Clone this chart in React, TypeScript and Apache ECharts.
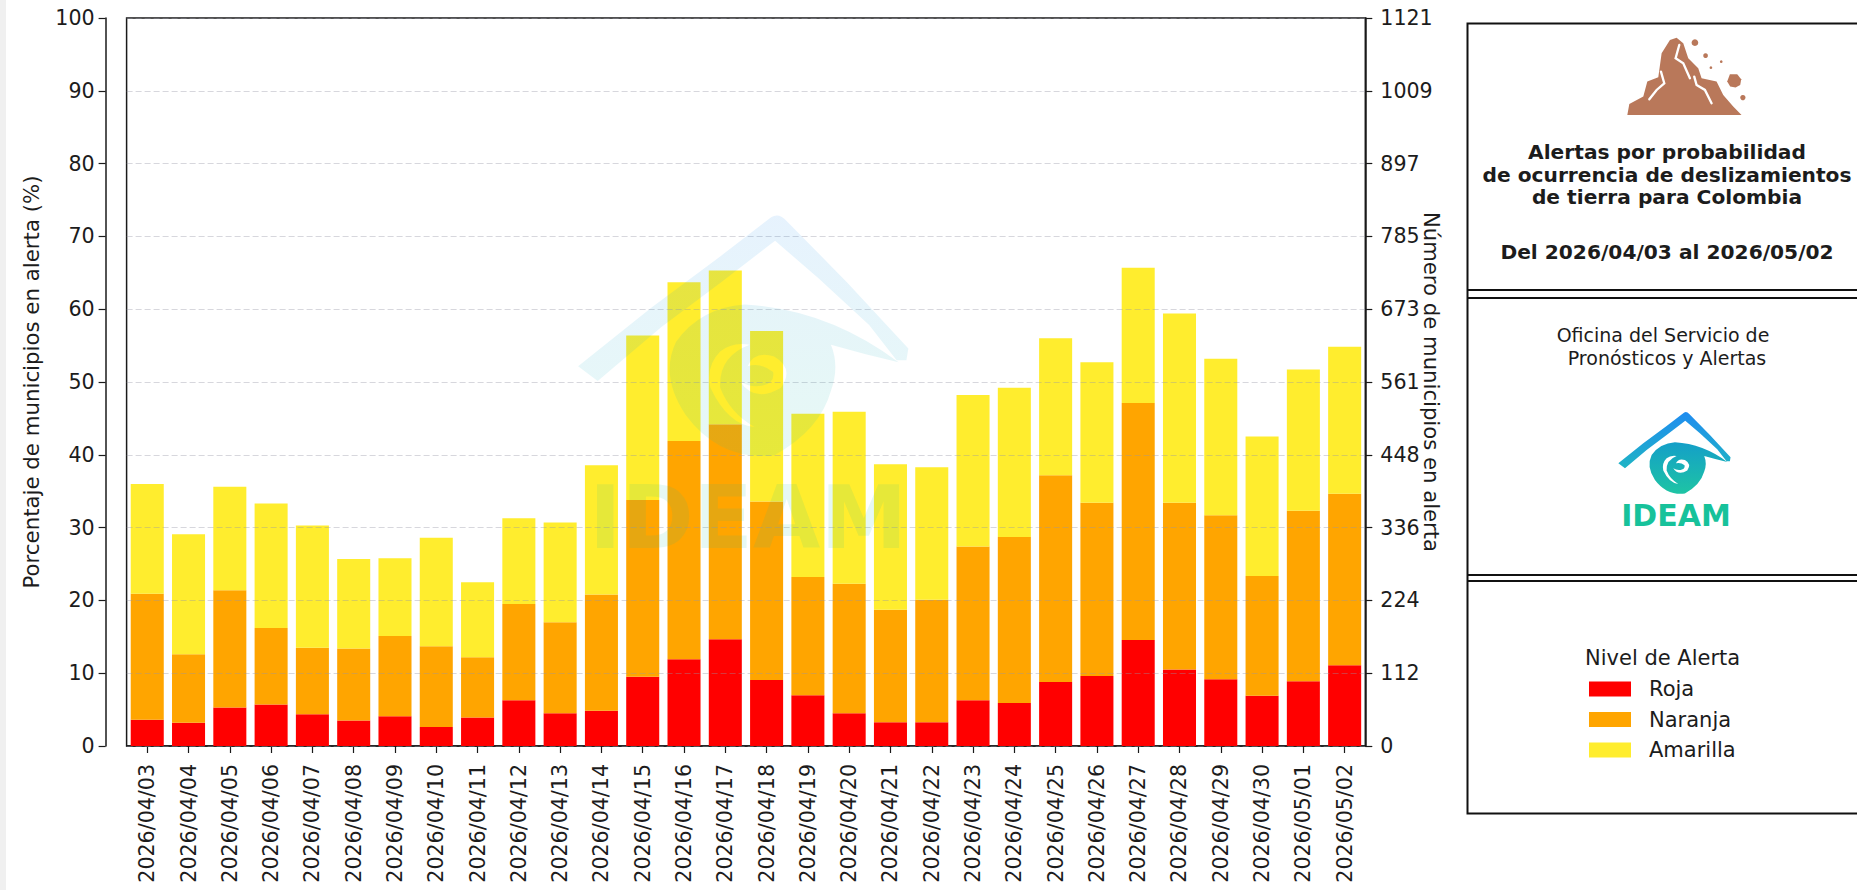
import React, { useEffect, useRef } from "react";
import * as echarts from "echarts";

const FONT = "DejaVu Sans";
const INK = "#1c1c1c";
const ROCK = "#b9785a";

const fechas = [
  "2026/04/03","2026/04/04","2026/04/05","2026/04/06","2026/04/07","2026/04/08","2026/04/09","2026/04/10","2026/04/11","2026/04/12",
  "2026/04/13","2026/04/14","2026/04/15","2026/04/16","2026/04/17","2026/04/18","2026/04/19","2026/04/20","2026/04/21","2026/04/22",
  "2026/04/23","2026/04/24","2026/04/25","2026/04/26","2026/04/27","2026/04/28","2026/04/29","2026/04/30","2026/05/01","2026/05/02",
];
const roja = [3.6,3.2,5.3,5.7,4.35,3.5,4.1,2.6,3.9,6.3,4.5,4.85,9.5,11.9,14.65,9.07,6.96,4.5,3.25,3.25,6.3,5.9,8.8,9.6,14.56,10.5,9.16,6.9,8.9,11.1];
const naranja = [17.3,9.4,16.1,10.5,9.15,9.9,11.0,11.1,8.3,13.2,12.5,15.95,24.3,30.0,29.55,24.53,16.24,17.8,15.45,16.85,21.1,22.8,28.4,23.8,32.54,22.9,22.54,16.45,23.4,23.56];
const amarilla = [15.1,16.5,14.2,17.1,16.8,12.3,10.7,14.9,10.3,11.8,13.7,17.75,22.6,21.8,21.1,23.4,22.45,23.6,20.0,18.2,20.8,20.5,18.8,19.3,18.6,26.0,21.5,19.15,19.4,20.19];

const ROOF = "M25 190 L100 130 L170 78 L222 38 Q230 33 238 42 L300 105 L362 172 L360 184 L350 184 L322 148 L270 100 L226 62 L170 105 L110 150 L45 205 Z";
const SWIRL = "M195 127 Q280 132 352 186 Q318 178 283 168 Q292 190 283 215 Q272 255 225 281 Q170 287 135 240 Q108 200 125 165 Q150 130 195 127 Z " +
  "M160 212 Q178 250 205 252 Q180 238 170 212 Q168 180 200 168 Q182 165 170 175 Q155 190 160 212 Z " +
  "M190 205 Q205 228 232 212 Q246 192 225 180 Q205 174 198 190 Q212 186 224 196 Q226 208 212 210 Q200 212 190 205 Z";
const MOUNT = "M37 255 L43 222 L85 200 L97 155 L130 142 L140 70 L165 30 L185 23 L205 40 L220 85 L250 115 L260 145 L305 155 L325 195 L355 230 L380 255 Z";

echarts.graphic.registerShape("ideamRoof", echarts.graphic.extendPath(ROOF, {}));
echarts.graphic.registerShape("ideamSwirl", echarts.graphic.extendPath(SWIRL, {}));
echarts.graphic.registerShape("mountain", echarts.graphic.extendPath(MOUNT, {}));

const roofFill = () => new echarts.graphic.LinearGradient(0, 0, 0, 1, [
  { offset: 0, color: "#1f8cf0" }, { offset: 1, color: "#1fb4c4" },
]);
const swirlFill = () => new echarts.graphic.LinearGradient(0, 0, 0, 1, [
  { offset: 0, color: "#149fc8" }, { offset: 1, color: "#1ec4a4" },
]);

function logo(x: number, y: number, s: number, opacity: number, z: number) {
  return {
    type: "group", x, y, scaleX: s, scaleY: s, z,
    children: [
      { type: "ideamRoof", z, style: { fill: roofFill(), opacity } },
      { type: "ideamSwirl", z, style: { fill: swirlFill(), opacity } },
    ],
  };
}

function crack(points: number[][]) {
  return { type: "polyline", z: 20, shape: { points }, style: { fill: "none", stroke: "#ffffff", lineWidth: 7, lineCap: "round" } };
}
const rock = (cx: number, cy: number, r: number) => ({ type: "circle", z: 20, shape: { cx, cy, r }, style: { fill: ROCK } });

function hline(y: number) {
  return { type: "line", z: 20, shape: { x1: 1467, y1: y, x2: 1857, y2: y }, style: { stroke: "#111", lineWidth: 2 } };
}
function label(text: string, x: number, y: number, size: number, weight: string = "normal", fill: string = INK, align: string = "center") {
  return { type: "text", z: 20, style: { text, x, y, fontFamily: FONT, fontSize: size, fontWeight: weight, fill, textAlign: align, textVerticalAlign: "middle" } };
}

export default function App() {
  const ref = useRef<HTMLDivElement>(null);
  useEffect(() => {
    const chart = echarts.init(ref.current!, undefined, { renderer: "svg" });
    const barSeries = (name: string, data: number[], color: string) => ({
      name, type: "bar", stack: "a", data, barWidth: "80%", itemStyle: { color }, emphasis: { disabled: true },
    });
    chart.setOption({
      animation: false,
      backgroundColor: "#ffffff",
      grid: { left: 126.6, top: 18, width: 1238.7, height: 728, show: true, borderColor: "#1a1a1a", borderWidth: 1.5, backgroundColor: "transparent" },
      legend: {
        orient: "vertical", left: 1589, top: 678.5, itemWidth: 42, itemHeight: 15, itemGap: 9.5, padding: 0,
        icon: "rect", selectedMode: false,
        data: ["Roja", "Naranja", "Amarilla"],
        textStyle: { fontFamily: FONT, fontSize: 21, color: INK, padding: [0, 0, 0, 13] },
      },
      xAxis: {
        type: "category", data: fechas, boundaryGap: true,
        axisLine: { show: true, lineStyle: { color: "#1a1a1a", width: 1.5 } },
        axisTick: { show: true, alignWithLabel: true, length: 7, lineStyle: { color: "#1a1a1a", width: 1.2 } },
        axisLabel: { rotate: 90, interval: 0, margin: 18, fontFamily: FONT, fontSize: 20.6, color: INK },
        splitLine: { show: false },
      },
      yAxis: [
        {
          type: "value", position: "left", offset: 21, min: 0, max: 100, interval: 10, z: 3,
          name: "Porcentaje de municipios en alerta (%)", nameLocation: "middle", nameGap: 64, nameRotate: 90, nameMoveOverlap: false,
          nameTextStyle: { fontFamily: FONT, fontSize: 21.3, color: INK },
          axisLine: { show: true, lineStyle: { color: "#1a1a1a", width: 1.5 } },
          axisTick: { show: true, length: 7, lineStyle: { color: "#1a1a1a", width: 1.2 } },
          axisLabel: { margin: 11, fontFamily: FONT, fontSize: 20.6, color: INK },
          splitLine: { show: true, lineStyle: { type: [6, 3], color: "rgba(150,150,165,0.38)", width: 1.2 } },
        },
        {
          type: "value", position: "right", min: 0, max: 1121, interval: 112.1, z: 3,
          name: "Número de municipios en alerta", nameLocation: "middle", nameGap: 56, nameRotate: -90, nameMoveOverlap: false,
          nameTextStyle: { fontFamily: FONT, fontSize: 21.2, color: INK },
          axisLine: { show: true, lineStyle: { color: "#1a1a1a", width: 1.5 } },
          axisTick: { show: true, length: 7, lineStyle: { color: "#1a1a1a", width: 1.2 } },
          axisLabel: { margin: 15, fontFamily: FONT, fontSize: 20.6, color: INK, formatter: (v: number) => String(Math.round(v)) },
          splitLine: { show: false },
        },
      ],
      series: [
        barSeries("Roja", roja, "#ff0000"),
        barSeries("Naranja", naranja, "#ffa500"),
        barSeries("Amarilla", amarilla, "#ffed2e"),
      ],
      graphic: {
        elements: [
          { type: "rect", z: 20, shape: { x: 0, y: 0, width: 6, height: 890 }, style: { fill: "#f0f0f0" } },
          logo(553.6, 180, 0.98, 0.11, 50),
          { type: "text", z: 50, style: { text: "IDEAM", x: 748, y: 518, fontFamily: FONT, fontSize: 87, fontWeight: "bold", fill: "#17c29b", opacity: 0.11, textAlign: "center", textVerticalAlign: "middle" } },
          { type: "rect", z: 20, shape: { x: 1467.5, y: 23.5, width: 500, height: 790 }, style: { fill: "none", stroke: "#111", lineWidth: 2 } },
          hline(290), hline(298), hline(575), hline(581),
          {
            type: "group", x: 1615, y: 30, scaleX: 1 / 3, scaleY: 1 / 3, z: 20,
            children: [
              { type: "mountain", z: 20, style: { fill: ROCK } },
              crack([[193, 45], [182, 85], [205, 100], [225, 145]]),
              crack([[138, 125], [148, 160], [125, 180], [103, 208]]),
              crack([[238, 140], [245, 165], [270, 180], [290, 220]]),
              rock(240, 38, 10), rock(272, 77, 7), rock(288, 113, 4), rock(319, 95, 4), rock(384, 203, 8),
              {
                type: "polygon", z: 20,
                shape: { points: [[345, 133], [367, 133], [379, 148], [376, 165], [362, 173], [346, 170], [337, 155]] },
                style: { fill: ROCK },
              },
            ],
          },
          label("Alertas por probabilidad", 1667, 152, 20.2, "bold"),
          label("de ocurrencia de deslizamientos", 1667, 174.5, 20.2, "bold"),
          label("de tierra para Colombia", 1667, 197, 20.2, "bold"),
          label("Del 2026/04/03 al 2026/05/02", 1667, 252, 20.2, "bold"),
          label("Oficina del Servicio de", 1663, 335, 19),
          label("Pronósticos y Alertas", 1667, 358, 19),
          logo(1610, 400, 1 / 3, 1, 20),
          { type: "text", z: 20, style: { text: "IDEAM", x: 1676, y: 515, fontFamily: FONT, fontSize: 30, fontWeight: "bold", fill: "#17c29b", textAlign: "center", textVerticalAlign: "middle" } },
          label("Nivel de Alerta", 1585, 658, 21, "normal", INK, "left"),
        ],
      },
    });
    return () => chart.dispose();
  }, []);
  return <div ref={ref} style={{ position: "absolute", left: 0, top: 0, width: 1857, height: 890 }} />;
}
